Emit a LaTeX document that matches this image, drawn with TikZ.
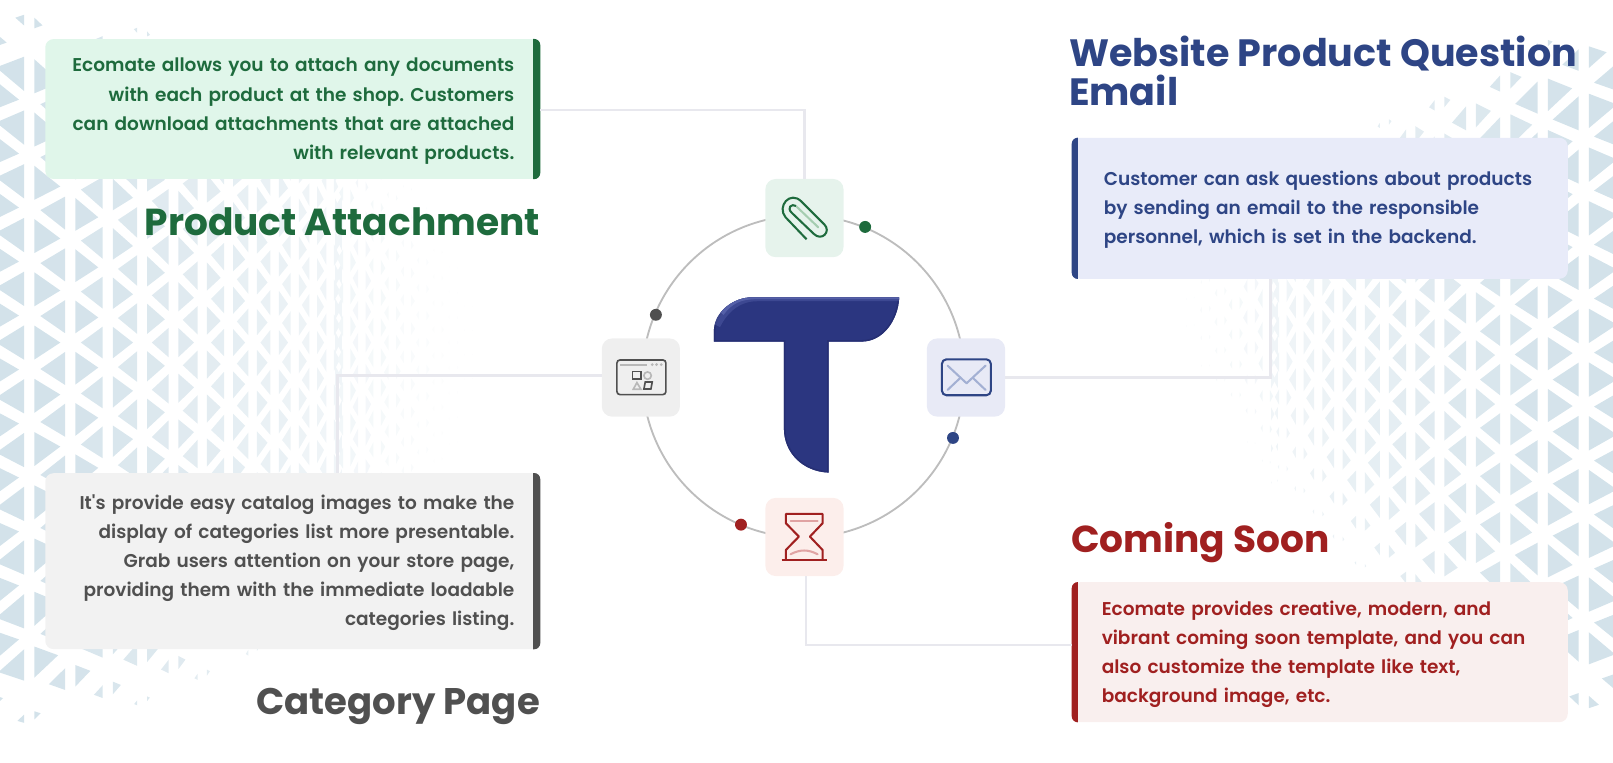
\documentclass[tikz,border=0pt]{standalone}
\usepackage{fontspec}
\newfontfamily\bodyfont{Poppins SemiBold}
\newfontfamily\titlefont{Poppins Bold}
\usetikzlibrary{calc,positioning}

\definecolor{trigray}{HTML}{D3E2EA}
\definecolor{linkgray}{HTML}{E8E8EE}
\definecolor{ringgray}{HTML}{BDBDBD}
\definecolor{attgreen}{HTML}{1E6B3D}
\definecolor{attbox}{HTML}{E0F6EA}
\definecolor{atticon}{HTML}{E6F3EC}
\definecolor{attlight}{HTML}{A5CDB0}
\definecolor{qstblue}{HTML}{2E4585}
\definecolor{qstbox}{HTML}{E8EBF9}
\definecolor{qsticon}{HTML}{E8EAF6}
\definecolor{qstlight}{HTML}{A3B0D3}
\definecolor{catgray}{HTML}{505050}
\definecolor{catbox}{HTML}{F2F2F2}
\definecolor{caticon}{HTML}{EFEFEF}
\definecolor{catlight}{HTML}{B8B8B8}
\definecolor{socred}{HTML}{A02020}
\definecolor{socbox}{HTML}{F9EFEE}
\definecolor{socicon}{HTML}{FCEEEB}
\definecolor{soclight}{HTML}{E0A3A3}
\definecolor{logoblue}{HTML}{2B3680}
\definecolor{logodark}{HTML}{262F73}
\definecolor{logolight}{HTML}{5560A8}

\tikzset{
	declare function = {
		colx(\u) = \u<12 ? 497-468.5*0.915^\u : 322.2+14.8*(\u-12);
		rowp(\u) = 52*0.963^\u;
	},
	infobox/.style = {rounded corners=8pt, inner xsep=0pt, inner ysep=0pt,
		font=\bodyfont\frenchspacing\fontsize{18}{28.3}\selectfont},
	headline/.style = {inner sep=0pt, font=\titlefont\fontsize{36.5}{38}\selectfont},
	iconbox/.style = {rounded corners=10pt, minimum size=76pt, inner sep=0pt},
	linkline/.style = {draw=linkgray, line width=2.5pt},
	dot/.style = {circle, minimum size=11.6pt, inner sep=0pt},
	iconline/.style = {line width=2pt, line join=round},
	iconsoft/.style = {line width=2pt, line cap=round, line join=round}
}
\newcommand{\toppad}{\rule{0pt}{17.5pt}}

% one field of shrinking triangles, measured from its page edge
% #1 row centre, #2 #3 #4 #5 #6 #7 outline of the field
\newcommand{\trifield}[7]{
	\foreach \i in {-1,...,24}{
		\pgfmathsetmacro{\ga}{0.12+0.01*min(\i,12)}
		\pgfmathsetmacro{\gb}{0.75-0.012*min(\i,12)}
		\pgfmathsetmacro{\xl}{colx(\i)}
		\pgfmathsetmacro{\pp}{rowp(\i)}
		\pgfmathsetmacro{\xa}{colx(\i+\ga)}
		\pgfmathsetmacro{\xb}{colx(\i+\gb)}
		\pgfmathsetmacro{\xc}{colx(\i-\ga)}
		\pgfmathsetmacro{\xd}{colx(\i-\gb)}
		\pgfmathsetmacro{\pa}{rowp(\i+\ga)}
		\pgfmathsetmacro{\pb}{rowp(\i+\gb)}
		\pgfmathsetmacro{\pc}{rowp(\i-\ga)}
		\pgfmathsetmacro{\pd}{rowp(\i-\gb)}
		\pgfmathsetmacro{\ph}{mod(\i+2,2)/2}
		\pgfmathtruncatemacro{\nj}{440/\pp}
		\pgfmathtruncatemacro{\njm}{0-\nj}
		\pgfmathtruncatemacro{\cc}{max(5,min(100,114-0.25*\xl))}
		\foreach \j in {\njm,...,\nj}{
			\pgfmathsetmacro{\vv}{\j+\ph}
			\pgfmathsetmacro{\yy}{#1+\vv*\pp}
			\pgfmathsetmacro{\rb}{\yy<#4 ? #5 : #6}
			\pgfmathsetmacro{\dd}{(abs((\xl+#2)/#3)^#7+abs((\yy-#4)/\rb)^#7)^(1/#7)}
			\ifdim\dd pt<0.98pt
				\pgfmathsetmacro{\ss}{min(1,(1-\dd)/0.2)}
				\pgfmathsetmacro{\hh}{0.32*\ss}
				\fill[trigray!\cc!white] (\xa,#1+\vv*\pa-\hh*\pa) -- (\xa+\ss*\xb-\ss*\xa,#1+\vv*\pa+\ss*\vv*\pb-\ss*\vv*\pa) -- (\xa,#1+\vv*\pa+\hh*\pa) -- cycle;
				\fill[trigray!\cc!white] (\xc,#1+\vv*\pc-\hh*\pc) -- (\xc+\ss*\xd-\ss*\xc,#1+\vv*\pc+\ss*\vv*\pd-\ss*\vv*\pc) -- (\xc,#1+\vv*\pc+\hh*\pc) -- cycle;
			\fi
		}
	}
}

\begin{document}
\begin{tikzpicture}[x=1pt,y=-1pt]
\useasboundingbox (0,0) rectangle (1568,741);

% background
\trifield{333}{50}{520}{340}{345}{380}{2}
\begin{scope}[shift={(1568,0)},xscale=-1]
	\trifield{369}{52}{480}{300}{300}{440}{1.4}
\end{scope}

% ring and icon boxes
\node (ring) [circle, draw=ringgray, line width=1.8pt, minimum size=313pt, inner sep=0pt] at (781,366) {};
\node (clipicon) [iconbox, fill=atticon] at (782,212) {};
\node (mailicon) [iconbox, fill=qsticon] at (939,367) {};
\node (cataicon) [iconbox, fill=caticon] at (623,367) {};
\node (hourglassicon) [iconbox, fill=socicon] at (782,522) {};

\node (dotgreen) [dot, fill=attgreen] at (841,220.6) {};
\node (dotblue) [dot, fill=qstblue] at (926.4,425.7) {};
\node (dotgray) [dot, fill=catgray] at (637.6,306) {};
\node (dotred) [dot, fill=socred] at (720.3,510) {};

% text boxes
\node (attachbox) [infobox, fill=attbox, text=attgreen, minimum width=481pt, minimum height=136pt, text width=431pt, align=right] at (284.5,106) {\toppad Ecomate allows you to attach any documents\\with each product at the shop. Customers\\can download attachments that are attached\\with relevant products.};
\node (questionbox) [infobox, fill=qstbox, text=qstblue, minimum width=482pt, minimum height=137pt, text width=420pt, align=left] at (1283,202.5) {\toppad Customer can ask questions about products\\by sending an email to the responsible\\personnel, which is set in the backend.};
\node (categorybox) [infobox, fill=catbox, text=catgray, minimum width=481pt, minimum height=171pt, text width=431pt, align=right] at (284.5,545.5) {\toppad It's provide easy catalog images to make the\\display of categories list more presentable.\\Grab users attention on your store page,\\providing them with the immediate loadable\\categories listing.};
\node (soonbox) [infobox, fill=socbox, text=socred, minimum width=482pt, minimum height=136pt, text width=424pt, align=left] at (1283,634) {\toppad Ecomate provides creative, modern, and\\vibrant coming soon template, and you can\\also customize the template like text,\\background image, etc.};

% box bars
\fill[attgreen] ([xshift=-7pt]attachbox.north east) [rounded corners=6pt] -- (attachbox.north east) -- (attachbox.south east) [sharp corners] -- ([xshift=-7pt]attachbox.south east) -- cycle;
\fill[catgray] ([xshift=-7pt]categorybox.north east) [rounded corners=6pt] -- (categorybox.north east) -- (categorybox.south east) [sharp corners] -- ([xshift=-7pt]categorybox.south east) -- cycle;
\fill[qstblue] ([xshift=6pt]questionbox.north west) [rounded corners=6pt] -- (questionbox.north west) -- (questionbox.south west) [sharp corners] -- ([xshift=6pt]questionbox.south west) -- cycle;
\fill[socred] ([xshift=6pt]soonbox.north west) [rounded corners=6pt] -- (soonbox.north west) -- (soonbox.south west) [sharp corners] -- ([xshift=6pt]soonbox.south west) -- cycle;

% connectors
\draw[linkline] ([yshift=-1pt]attachbox.east) -| (clipicon.north);
\draw[linkline] (mailicon.east) -| ([xshift=-48pt]questionbox.south);
\draw[linkline] ([yshift=2pt]cataicon.west) -| ([xshift=43.5pt]categorybox.north);
\draw[linkline] ([xshift=1.5pt]hourglassicon.south) |- ([yshift=7pt]soonbox.west);

% titles
\node (attachtitle) [headline, anchor=base east, text=attgreen] at (525,229) {Product Attachment};
\node (questiontitle) [headline, anchor=base west, text=qstblue, align=left, font=\titlefont\fontsize{37}{38}\selectfont] at (1039,103) {Website Product Question\\Email};
\node (categorytitle) [headline, anchor=base east, text=catgray, font=\titlefont\fontsize{36}{38}\selectfont] at (525,695) {Category Page};
\node (soontitle) [headline, anchor=base west, text=socred] at (1041,537) {Coming Soon};

% icons and logo, in a frame of their own
\begin{scope}[shift={(544.3,155.5)},x=0.324pt,y=-0.324pt]
	% paper clip
	\draw[iconsoft, attlight] (708,138) -- (775,202);
	\draw[iconline, attgreen] (740,238) -- (677,172) .. controls (650,140) and (690,90) .. (725,125) -- (793,193) .. controls (815,215) and (785,245) .. (762,222) -- (695,158) .. controls (680,143) and (695,130) .. (708,138);
	% mail
	\draw[iconsoft, qstlight] (1163,617) -- (1220,670) -- (1277,617);
	\draw[iconsoft, qstlight] (1163,690) -- (1200,655);
	\draw[iconsoft, qstlight] (1277,690) -- (1240,655);
	\draw[iconline, qstblue, rounded corners=4.5pt] (1146,598) rectangle (1293,706);
	% category page
	\draw[catlight, line width=2pt] (180,614) -- (260,614);
	\foreach \x in {277,290,304} \fill[catlight] (\x,614) circle (1.5pt);
	\draw[line width=1.6pt, catgray, rounded corners=3pt] (171,600) rectangle (318,704);
	\draw[line width=1.6pt, catgray] (218,635) rectangle (243,657);
	\draw[line width=1.6pt, catlight] (263,647) circle (3.6pt);
	\draw[line width=1.6pt, catlight] (220,688) -- (231,668) -- (243,688) -- cycle;
	\draw[line width=1.6pt, catgray] (252,687) -- (256,666) -- (277,666) -- (273,687) -- cycle;
	% hourglass
	\draw[iconsoft, soclight] (692,1084) -- (773,1084);
	\draw[iconsoft, soclight] (692,1183) .. controls (720,1168) and (745,1168) .. (773,1183);
	\draw[iconline, socred] (678,1198) -- (678,1170) -- (717,1130) -- (678,1090) -- (678,1062) -- (788,1062) -- (788,1090) -- (750,1130) -- (788,1170) -- (788,1198);
	\draw[iconline, socred] (665,1200) -- (802,1200);
	% logo
	\def\logopath{(462,545) -- (462,510) .. controls (465,455) and (520,412) .. (578,412) -- (1018,412) .. controls (1015,480) and (970,545) .. (905,545) -- (806,545) -- (806,938) .. controls (730,935) and (672,880) .. (672,805) -- (672,545) -- cycle}
	\fill[logoblue] \logopath;
	\begin{scope}
		\clip \logopath;
		\draw[logodark, line width=3pt] \logopath;
		\draw[logolight, line width=9pt, opacity=0.45] (468,495) .. controls (495,440) and (540,410) .. (590,410) -- (1025,410);
		\draw[logolight, line width=5pt] (485,460) .. controls (510,425) and (540,410) .. (590,410) -- (1025,410);
	\end{scope}
\end{scope}
\end{tikzpicture}
\end{document}
